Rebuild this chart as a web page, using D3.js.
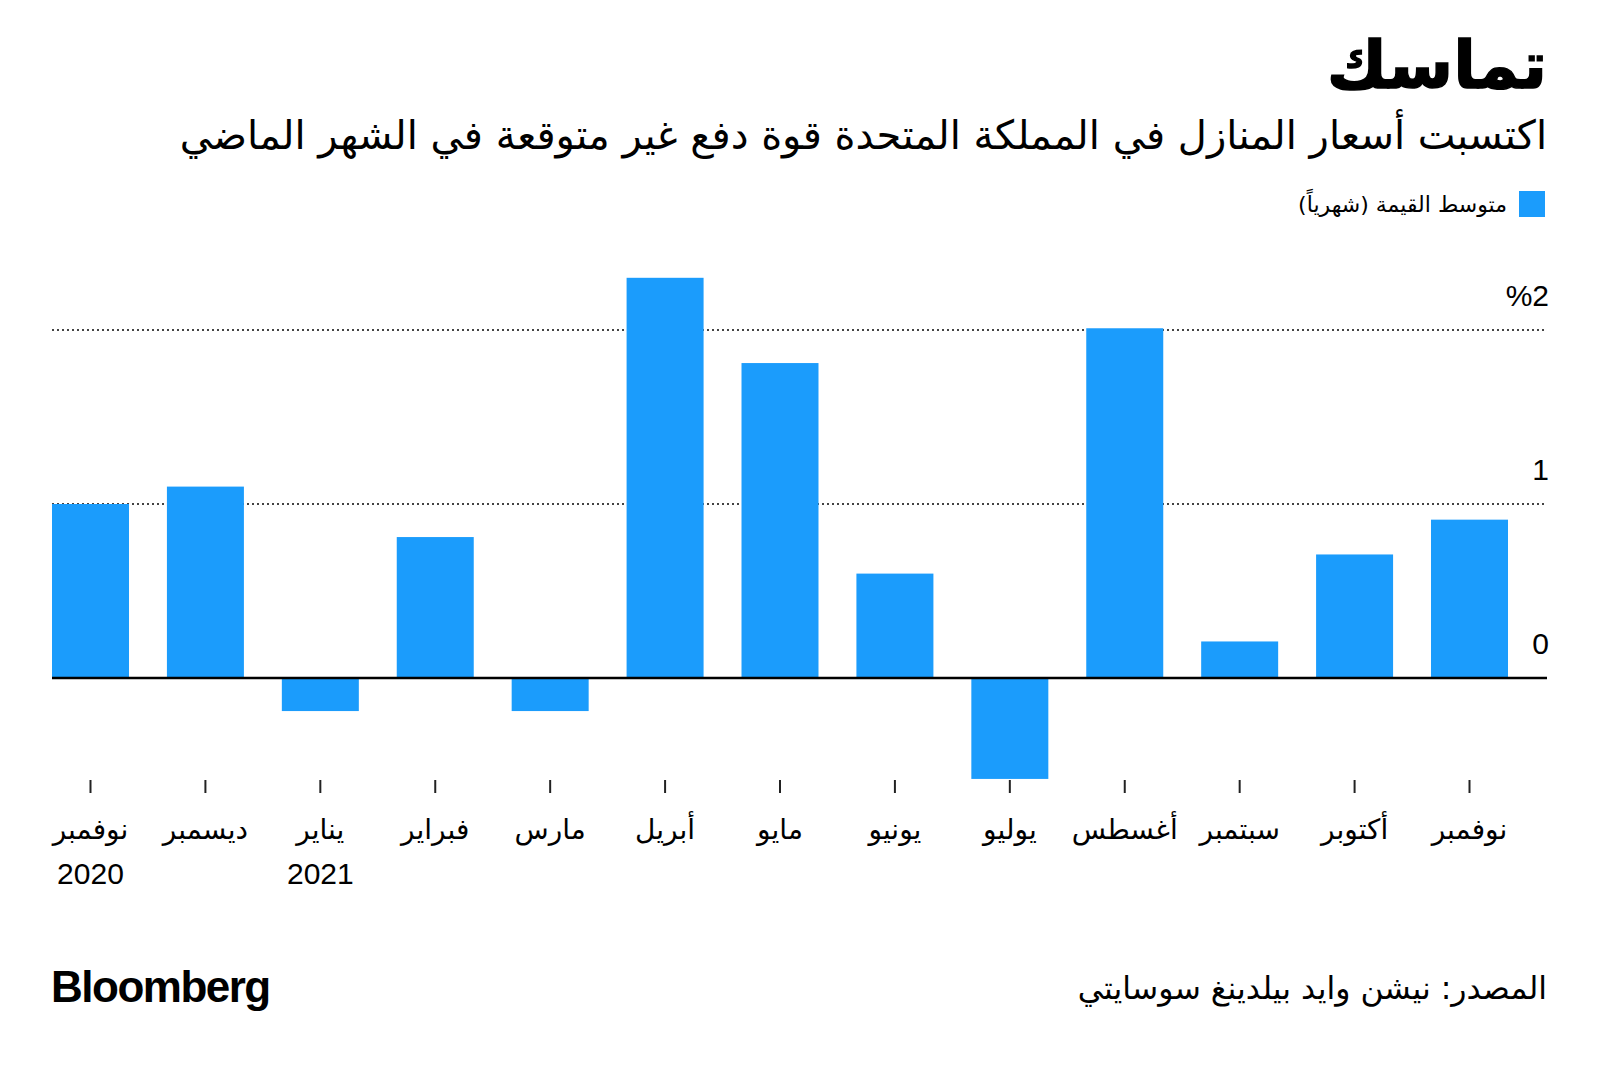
<!DOCTYPE html>
<html>
<head>
<meta charset="utf-8">
<script src="https://cdn.jsdelivr.net/npm/d3@7"></script>
<style>
  html, body { margin: 0; padding: 0; background: #fff; }
  svg { display: block; }
  .ar { font-family: 'DejaVu Sans', sans-serif; }
  .num { font-family: 'Liberation Sans Narrow', 'Liberation Sans', Arial, sans-serif; }
</style>
</head>
<body>
<svg id="chart" width="1600" height="1066"></svg>
<script>
// ---- data ----
const months = ["نوفمبر","ديسمبر","يناير","فبراير","مارس","أبريل","مايو","يونيو","يوليو","أغسطس","سبتمبر","أكتوبر","نوفمبر"];
const years  = ["2020","","2021","","","","","","","","","",""];
const values = [1.0, 1.1, -0.19, 0.81, -0.19, 2.3, 1.81, 0.6, -0.58, 2.01, 0.21, 0.71, 0.91];
const yTicks = [0, 1, 2];
const yTickLabels = ["0", "1", "%2"];
const title = "تماسك";
const subtitle = "اكتسبت أسعار المنازل في المملكة المتحدة قوة دفع غير متوقعة في الشهر الماضي";
const legendLabel = "متوسط القيمة (شهرياً)";
const source = "المصدر: نيشن وايد بيلدينغ سوسايتي";
const brand = "Bloomberg";

const barColor = "#1B9CFC";
const svg = d3.select("#chart");
svg.append("rect").attr("width",1600).attr("height",1066).attr("fill","#fff");

const x = d3.scaleBand().domain(d3.range(values.length)).range([52, 1508]).paddingInner(0.33).paddingOuter(0);
const y = d3.scaleLinear().domain([0, 2]).range([678, 330]);
const plotLeft = 52, plotRight = 1547;

// gridlines
const grid = svg.append("g");
grid.selectAll("line").data(yTicks.filter(d => d !== 0)).join("line")
  .attr("x1", plotLeft).attr("x2", plotRight)
  .attr("y1", d => y(d)).attr("y2", d => y(d))
  .attr("stroke", "#444").attr("stroke-width", 1.8).attr("stroke-dasharray", "2,3");

// y labels
svg.append("g").selectAll("text").data(yTicks).join("text")
  .attr("class", "num")
  .attr("x", 1549).attr("y", d => y(d) - 24)
  .attr("text-anchor", "end")
  .attr("font-size", 30)
  .attr("fill", "#000")
  .text((d, i) => yTickLabels[i]);

// bars
svg.append("g").selectAll("rect").data(values).join("rect")
  .attr("x", (d, i) => x(i))
  .attr("width", x.bandwidth())
  .attr("y", d => Math.min(y(d), y(0)))
  .attr("height", d => Math.abs(y(d) - y(0)))
  .attr("fill", barColor);

// zero line
svg.append("line").attr("x1", plotLeft).attr("x2", plotRight)
  .attr("y1", y(0)).attr("y2", y(0)).attr("stroke", "#000").attr("stroke-width", 2.5);

// x axis ticks
const xAxis = d3.axisBottom(x).tickSize(13).tickFormat("");
const ax = svg.append("g").attr("transform", "translate(0,780)").call(xAxis);
ax.select(".domain").remove();
ax.selectAll(".tick line").attr("stroke", "#222").attr("stroke-width", 2);

// month labels
svg.append("g").selectAll("text").data(months).join("text")
  .attr("class", "ar")
  .attr("x", (d, i) => x(i) + x.bandwidth() / 2)
  .attr("y", 839)
  .attr("text-anchor", "middle")
  .attr("font-size", 28)
  .attr("fill", "#000")
  .text(d => d);

svg.append("g").selectAll("text").data(years).join("text")
  .attr("class", "num")
  .attr("x", (d, i) => x(i) + x.bandwidth() / 2)
  .attr("y", 884)
  .attr("text-anchor", "middle")
  .attr("font-size", 30)
  .attr("fill", "#000")
  .text(d => d);

// title
svg.append("text").attr("class", "ar")
  .attr("x", 1547).attr("y", 88)
  .attr("direction", "rtl").attr("text-anchor", "start")
  .attr("font-size", 66).attr("font-weight", "bold").attr("fill", "#000")
  .attr("stroke", "#000").attr("stroke-width", 1.5)
  .text(title);

svg.append("text").attr("class", "ar")
  .attr("x", 1547).attr("y", 149)
  .attr("direction", "rtl").attr("text-anchor", "start")
  .attr("font-size", 40).attr("fill", "#000")
  .text(subtitle);

// legend
svg.append("rect").attr("x", 1519).attr("y", 191).attr("width", 26).attr("height", 26).attr("fill", barColor);
svg.append("text").attr("class", "ar")
  .attr("x", 1507).attr("y", 212)
  .attr("direction", "rtl").attr("text-anchor", "start")
  .attr("font-size", 22).attr("fill", "#000")
  .text(legendLabel);

// footer
svg.append("text")
  .attr("x", 51).attr("y", 1002)
  .attr("font-family", "'Liberation Sans', Arial, sans-serif")
  .attr("font-weight", "bold").attr("font-size", 44).attr("letter-spacing", -1.5)
  .attr("fill", "#000").text(brand);

svg.append("text").attr("class", "ar")
  .attr("x", 1547).attr("y", 999)
  .attr("direction", "rtl").attr("text-anchor", "start")
  .attr("font-size", 31.5).attr("fill", "#000")
  .text(source);
</script>
</body>
</html>
